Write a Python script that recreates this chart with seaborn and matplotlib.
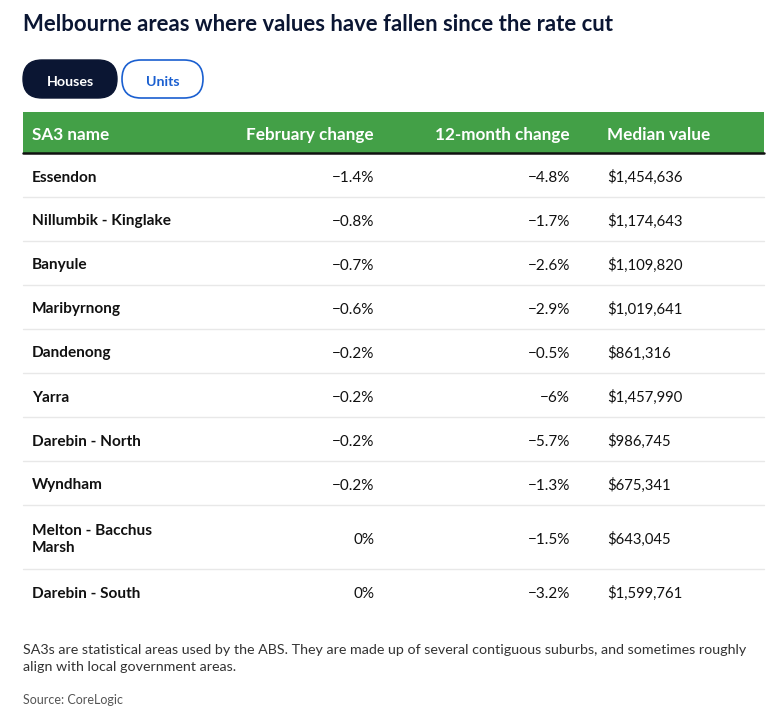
# Melbourne house values table, drawn with matplotlib/seaborn
import numpy as np
import matplotlib
matplotlib.use('Agg')
import matplotlib.pyplot as plt
from matplotlib.patches import FancyBboxPatch, Rectangle
import seaborn as sns

# Data
title = 'Melbourne areas where values have fallen since the rate cut'
tabs = ['Houses', 'Units']
columns = ['SA3 name', 'February change', '12-month change', 'Median value']
areas = ['Essendon', 'Nillumbik - Kinglake', 'Banyule', 'Maribyrnong', 'Dandenong',
         'Yarra', 'Darebin - North', 'Wyndham', 'Melton - Bacchus\nMarsh', 'Darebin - South']
feb_change = [-1.4, -0.8, -0.7, -0.6, -0.2, -0.2, -0.2, -0.2, 0, 0]
year_change = [-4.8, -1.7, -2.6, -2.9, -0.5, -6, -5.7, -1.3, -1.5, -3.2]
median_value = [1454636, 1174643, 1109820, 1019641, 861316, 1457990, 986745, 675341, 643045, 1599761]
note = ('SA3s are statistical areas used by the ABS. They are made up of several contiguous suburbs, and sometimes roughly\n'
        'align with local government areas.')
source = 'Source: CoreLogic'

sns.set_theme(style='white')
plt.rcParams['font.family'] = ['Lato', 'DejaVu Sans']

def pct(v):
    return f'{v:g}%'.replace('-', '\u2212')

def money(v):
    return f'${v:,.0f}'

W, H = 773, 715
fig = plt.figure(figsize=(W / 100, H / 100), dpi=100)
ax = fig.add_axes([0, 0, 1, 1])
ax.set_xlim(0, W)
ax.set_ylim(H, 0)
ax.axis('off')

navy = '#0b1633'
text_col = '#111111'
dy = 2.5  # Lato sits a little high with va='center'

# title
ax.text(23, 22 + dy, title, fontsize=15.9, fontweight='bold', color=navy, va='center', ha='left')

# tabs
ax.add_patch(FancyBboxPatch((23, 60), 94, 38, boxstyle='round,pad=0,rounding_size=19',
                            fc=navy, ec=navy, lw=1))
ax.text(70, 79 + dy, tabs[0], fontsize=10.3, fontweight='bold', color='white', ha='center', va='center')
ax.add_patch(FancyBboxPatch((122, 60), 81, 38, boxstyle='round,pad=0,rounding_size=19',
                            fc='white', ec='#1a5fd0', lw=1.2))
ax.text(162.5, 79 + dy, tabs[1], fontsize=10.3, fontweight='bold', color='#1a5fd0', ha='center', va='center')

# table geometry
left, right = 23, 764
head_top, head_bot = 112, 153
ax.add_patch(Rectangle((left, head_top), right - left, head_bot - head_top, fc='#43a047', ec='none'))
ax.plot([left, right], [head_bot, head_bot], color='#111111', lw=1.8)

col_x = [32, 374, 570, 607]
col_ha = ['left', 'right', 'right', 'left']
head_y = (head_top + head_bot) / 2 + dy
for x, ha, name in zip(col_x, col_ha, columns):
    ax.text(x, head_y, name, fontsize=12.3, fontweight='bold', color='white', ha=ha, va='center')

y = head_bot
for i, area in enumerate(areas):
    nlines = area.count('\n') + 1
    h = 44 + 20 * (nlines - 1)
    cy = y + h / 2 + dy
    ax.text(col_x[0], cy, area, fontsize=11.1, fontweight='bold', color=text_col,
            ha='left', va='center', linespacing=1.3)
    ax.text(col_x[1], cy, pct(feb_change[i]), fontsize=11, color=text_col, ha='right', va='center')
    ax.text(col_x[2], cy, pct(year_change[i]), fontsize=11, color=text_col, ha='right', va='center')
    ax.text(col_x[3], cy, money(median_value[i]), fontsize=10.7, color=text_col, ha='left', va='center')
    y += h
    if i < len(areas) - 1:
        ax.plot([left, right], [y, y], color='#e8e8e8', lw=1)

# footnotes
ax.text(23, 656 + dy, note, fontsize=10.3, color='#333333', ha='left', va='center', linespacing=1.55)
ax.text(23, 697 + dy, source, fontsize=9, color='#555555', ha='left', va='center')

fig.savefig('out.png', dpi=100, facecolor='white')
